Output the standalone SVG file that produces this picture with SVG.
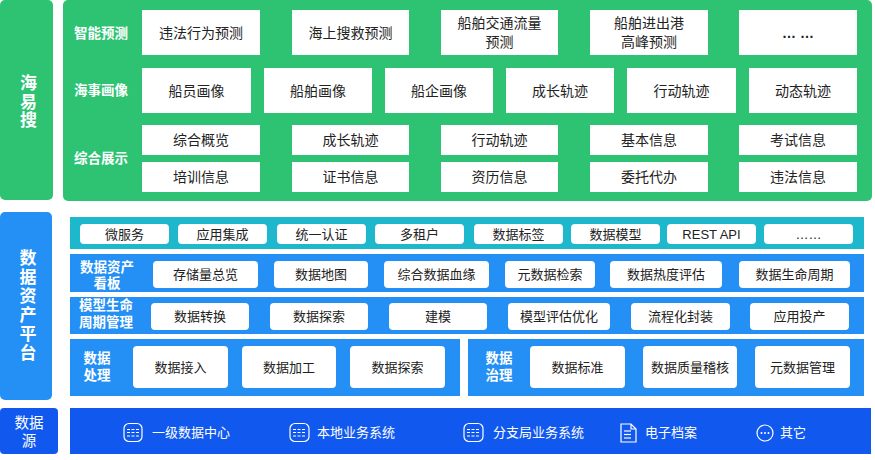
<svg xmlns="http://www.w3.org/2000/svg" width="875" height="460" viewBox="0 0 875 460">
<style>
text{font-family:"Liberation Sans","Noto Sans CJK SC",sans-serif;dominant-baseline:central;text-anchor:middle}
.bx{fill:#ffffff}
.t{font-size:14px;fill:#222}
.p{font-size:13px;fill:#222}
.lbl{font-size:13.5px;font-weight:bold;fill:#ffffff}
.side{font-size:17px;font-weight:bold;fill:#ffffff;writing-mode:vertical-rl}
.src{font-size:13px;fill:#ffffff;text-anchor:start}
.green{fill:#2dc373}
.blue{fill:#2490f5}
.teal{fill:#1db8cb}
.dblue{fill:#1158ef}
.ic{fill:none;stroke:#ffffff;stroke-width:1.2}
.icd{fill:none;stroke:#ffffff;stroke-width:1.1;stroke-dasharray:3 1.5}
</style>
<rect width="875" height="460" fill="#ffffff"/>

<!-- 海易搜 layer -->
<g id="haiyisou-label">
<rect class="green" x="0" y="0" width="53" height="200" rx="5"/>
<text class="side" x="26.5" y="102" style="letter-spacing:1.5px">海易搜</text>
</g>
<g id="haiyisou-panel">
<rect class="green" x="63" y="0" width="809" height="201" rx="5"/>
<text class="lbl" x="101" y="33">智能预测</text>
<text class="lbl" x="101" y="90">海事画像</text>
<text class="lbl" x="101" y="158">综合展示</text>
</g>
<g id="row-predict">
<g id="n-wfxwyc"><rect class="bx" x="142" y="10" width="118" height="45"/><text class="t" x="201" y="32.5">违法行为预测</text></g>
<g id="n-hsjjyc"><rect class="bx" x="292" y="10" width="117" height="45"/><text class="t" x="350.5" y="32.5">海上搜救预测</text></g>
<g id="n-cbjtll"><rect class="bx" x="441" y="10" width="117" height="45"/><text class="t"><tspan x="499.5" y="23">船舶交通流量</tspan><tspan x="499.5" y="41.5">预测</tspan></text></g>
<g id="n-cbjcg"><rect class="bx" x="590" y="10" width="118" height="45"/><text class="t"><tspan x="649" y="23">船舶进出港</tspan><tspan x="649" y="41.5">高峰预测</tspan></text></g>
<g id="n-more1"><rect class="bx" x="739" y="10" width="118" height="45"/><text class="t" x="798" y="32.5" style="font-weight:bold">… …</text></g>
</g>
<g id="row-portrait">
<g id="n-cyhx"><rect class="bx" x="142" y="68" width="109" height="45"/><text class="t" x="196.5" y="90.5">船员画像</text></g>
<g id="n-cbhx"><rect class="bx" x="264" y="68" width="108" height="45"/><text class="t" x="318" y="90.5">船舶画像</text></g>
<g id="n-cqhx"><rect class="bx" x="385" y="68" width="108" height="45"/><text class="t" x="439" y="90.5">船企画像</text></g>
<g id="n-czgj"><rect class="bx" x="506" y="68" width="108" height="45"/><text class="t" x="560" y="90.5">成长轨迹</text></g>
<g id="n-xdgj"><rect class="bx" x="627" y="68" width="109" height="45"/><text class="t" x="681.5" y="90.5">行动轨迹</text></g>
<g id="n-dtgj"><rect class="bx" x="749" y="68" width="108" height="45"/><text class="t" x="803" y="90.5">动态轨迹</text></g>
</g>
<g id="row-display">
<g id="n-zhgl"><rect class="bx" x="142" y="125" width="118" height="30"/><text class="t" x="201" y="140">综合概览</text></g>
<g id="n-czgj2"><rect class="bx" x="292" y="125" width="117" height="30"/><text class="t" x="350.5" y="140">成长轨迹</text></g>
<g id="n-xdgj2"><rect class="bx" x="441" y="125" width="117" height="30"/><text class="t" x="499.5" y="140">行动轨迹</text></g>
<g id="n-jbxx"><rect class="bx" x="590" y="125" width="118" height="30"/><text class="t" x="649" y="140">基本信息</text></g>
<g id="n-ksxx"><rect class="bx" x="739" y="125" width="118" height="30"/><text class="t" x="798" y="140">考试信息</text></g>
<g id="n-pxxx"><rect class="bx" x="142" y="162" width="118" height="30"/><text class="t" x="201" y="177">培训信息</text></g>
<g id="n-zsxx"><rect class="bx" x="292" y="162" width="117" height="30"/><text class="t" x="350.5" y="177">证书信息</text></g>
<g id="n-zlxx"><rect class="bx" x="441" y="162" width="117" height="30"/><text class="t" x="499.5" y="177">资历信息</text></g>
<g id="n-wtdb"><rect class="bx" x="590" y="162" width="118" height="30"/><text class="t" x="649" y="177">委托代办</text></g>
<g id="n-wfxx"><rect class="bx" x="739" y="162" width="118" height="30"/><text class="t" x="798" y="177">违法信息</text></g>
</g>

<!-- 数据资产平台 layer -->
<g id="platform-label">
<rect class="blue" x="0" y="212" width="52" height="188" rx="5"/>
<text class="side" x="26" y="306" style="letter-spacing:2px">数据资产平台</text>
</g>
<g id="row-services">
<rect class="teal" x="70" y="217" width="794" height="32"/>
<g id="n-wfw"><rect class="bx" x="80" y="224" width="89" height="20" rx="4"/><text class="p" x="124.5" y="234">微服务</text></g>
<g id="n-yyjc"><rect class="bx" x="178" y="224" width="89" height="20" rx="4"/><text class="p" x="222.5" y="234">应用集成</text></g>
<g id="n-tyrz"><rect class="bx" x="277" y="224" width="89" height="20" rx="4"/><text class="p" x="321.5" y="234">统一认证</text></g>
<g id="n-dzh"><rect class="bx" x="375" y="224" width="89" height="20" rx="4"/><text class="p" x="419.5" y="234">多租户</text></g>
<g id="n-sjbq"><rect class="bx" x="474" y="224" width="89" height="20" rx="4"/><text class="p" x="518.5" y="234">数据标签</text></g>
<g id="n-sjmx"><rect class="bx" x="571" y="224" width="89" height="20" rx="4"/><text class="p" x="615.5" y="234">数据模型</text></g>
<g id="n-rest"><rect class="bx" x="667" y="224" width="89" height="20" rx="4"/><text class="p" x="711.5" y="234">REST API</text></g>
<g id="n-more2"><rect class="bx" x="764" y="224" width="89" height="20" rx="4"/><text class="p" x="808.5" y="234">……</text></g>
</g>
<g id="row-asset-board">
<rect class="blue" x="70" y="254" width="794" height="38"/>
<text class="lbl"><tspan x="107" y="267">数据资产</tspan><tspan x="107" y="283">看板</tspan></text>
<g id="n-cclzl"><rect class="bx" x="153" y="261" width="105" height="27" rx="4"/><text class="p" x="205.5" y="274.5">存储量总览</text></g>
<g id="n-sjdt"><rect class="bx" x="274" y="261" width="94" height="27" rx="4"/><text class="p" x="321" y="274.5">数据地图</text></g>
<g id="n-zhsjxy"><rect class="bx" x="384" y="261" width="105" height="27" rx="4"/><text class="p" x="436.5" y="274.5">综合数据血缘</text></g>
<g id="n-ysjjs"><rect class="bx" x="505" y="261" width="90" height="27" rx="4"/><text class="p" x="550" y="274.5">元数据检索</text></g>
<g id="n-sjrdpg"><rect class="bx" x="610" y="261" width="112" height="27" rx="4"/><text class="p" x="666" y="274.5">数据热度评估</text></g>
<g id="n-sjsmzq"><rect class="bx" x="739" y="261" width="111" height="27" rx="4"/><text class="p" x="794.5" y="274.5">数据生命周期</text></g>
</g>
<g id="row-model-lifecycle">
<rect class="blue" x="70" y="297" width="794" height="37"/>
<text class="lbl"><tspan x="106" y="305">模型生命</tspan><tspan x="106" y="322">周期管理</tspan></text>
<g id="n-sjzh"><rect class="bx" x="151" y="303" width="98" height="27" rx="4"/><text class="p" x="200" y="316.5">数据转换</text></g>
<g id="n-sjts"><rect class="bx" x="270" y="303" width="98" height="27" rx="4"/><text class="p" x="319" y="316.5">数据探索</text></g>
<g id="n-jm"><rect class="bx" x="389" y="303" width="98" height="27" rx="4"/><text class="p" x="438" y="316.5">建模</text></g>
<g id="n-mxpgyh"><rect class="bx" x="508" y="303" width="102" height="27" rx="4"/><text class="p" x="559" y="316.5">模型评估优化</text></g>
<g id="n-lchfz"><rect class="bx" x="631" y="303" width="99" height="27" rx="4"/><text class="p" x="680.5" y="316.5">流程化封装</text></g>
<g id="n-yytc"><rect class="bx" x="750" y="303" width="99" height="27" rx="4"/><text class="p" x="799.5" y="316.5">应用投产</text></g>
</g>
<g id="row-processing">
<rect class="blue" x="70" y="339" width="390" height="57"/>
<text class="lbl"><tspan x="97" y="358">数据</tspan><tspan x="97" y="375">处理</tspan></text>
<g id="n-sjjr"><rect class="bx" x="133" y="346" width="95" height="42" rx="4"/><text class="p" x="180.5" y="367">数据接入</text></g>
<g id="n-sjjg"><rect class="bx" x="242" y="346" width="94" height="42" rx="4"/><text class="p" x="289" y="367">数据加工</text></g>
<g id="n-sjts2"><rect class="bx" x="350" y="346" width="95" height="42" rx="4"/><text class="p" x="397.5" y="367">数据探索</text></g>
</g>
<g id="row-governance">
<rect class="blue" x="468" y="339" width="396" height="57"/>
<text class="lbl"><tspan x="499" y="358">数据</tspan><tspan x="499" y="375">治理</tspan></text>
<g id="n-sjbz"><rect class="bx" x="530" y="346" width="95" height="42" rx="4"/><text class="p" x="577.5" y="367">数据标准</text></g>
<g id="n-sjzljh"><rect class="bx" x="643" y="346" width="94" height="42" rx="4"/><text class="p" x="690" y="367">数据质量稽核</text></g>
<g id="n-ysjgl"><rect class="bx" x="755" y="346" width="95" height="42" rx="4"/><text class="p" x="802.5" y="367">元数据管理</text></g>
</g>

<!-- 数据源 layer -->
<g id="source-label">
<rect class="dblue" x="0" y="408" width="58" height="46" rx="4"/>
<text style="font-size:14.5px;fill:#fff"><tspan x="29" y="423">数据</tspan><tspan x="29" y="441">源</tspan></text>
</g>
<g id="source-bar">
<rect class="dblue" x="70" y="408" width="801" height="46"/>
<g id="n-yjsjzx">
<rect class="ic" x="124" y="423.5" width="18" height="18" rx="5"/>
<line class="icd" x1="127" y1="429.5" x2="139" y2="429.5"/><line class="icd" x1="127" y1="432.5" x2="139" y2="432.5"/><line class="icd" x1="127" y1="436" x2="139" y2="436"/>
<text class="src" x="152" y="432.5">一级数据中心</text>
</g>
<g id="n-bdywxt">
<rect class="ic" x="290" y="423.5" width="19" height="18" rx="5"/>
<line class="icd" x1="293" y1="429.5" x2="306" y2="429.5"/><line class="icd" x1="293" y1="432.5" x2="306" y2="432.5"/><line class="icd" x1="293" y1="436" x2="306" y2="436"/>
<text class="src" x="317" y="432.5">本地业务系统</text>
</g>
<g id="n-fzjywxt">
<rect class="ic" x="464" y="423.5" width="19" height="18" rx="5"/>
<line class="icd" x1="467" y1="429.5" x2="480" y2="429.5"/><line class="icd" x1="467" y1="432.5" x2="480" y2="432.5"/><line class="icd" x1="467" y1="436" x2="480" y2="436"/>
<text class="src" x="493" y="432.5">分支局业务系统</text>
</g>
<g id="n-dzda">
<path class="ic" d="M621 424 H631 L636 429 V442 H621 Z M631 424 V429 H636"/>
<line class="ic" x1="624" y1="431" x2="631" y2="431"/><line class="ic" x1="624" y1="434.5" x2="631" y2="434.5"/><line class="ic" x1="624" y1="438" x2="631" y2="438"/>
<text class="src" x="645" y="432.5">电子档案</text>
</g>
<g id="n-qt">
<circle class="ic" cx="765" cy="433" r="8"/>
<circle cx="761.5" cy="433" r="1" fill="#fff"/><circle cx="765" cy="433" r="1" fill="#fff"/><circle cx="768.5" cy="433" r="1" fill="#fff"/>
<text class="src" x="780" y="432.5">其它</text>
</g>
</g>
<g id="connectors"/>
</svg>
